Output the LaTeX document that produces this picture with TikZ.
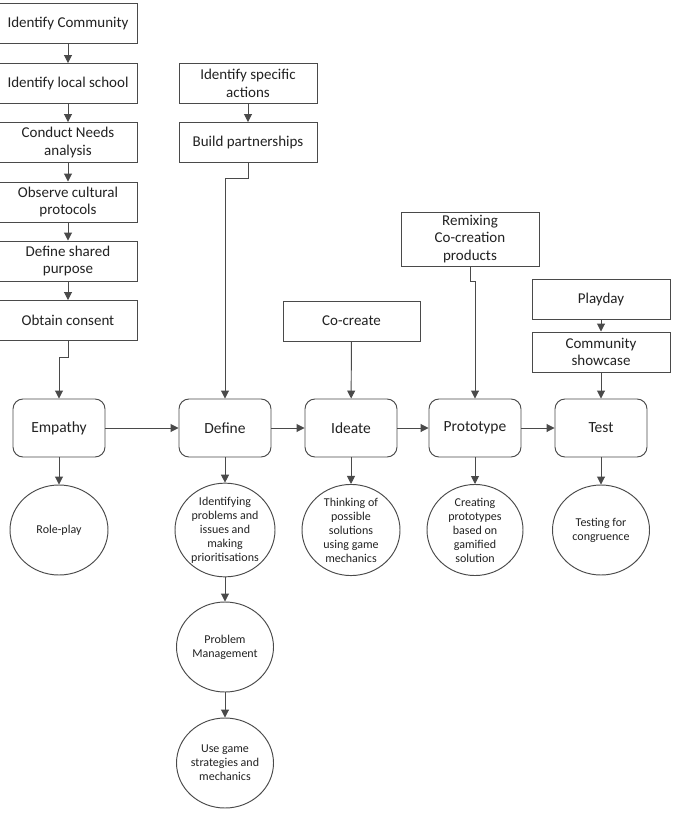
\documentclass[tikz,border=0pt]{standalone}
\usepackage{fontspec}
\setmainfont{Carlito}
\usetikzlibrary{shapes.geometric,arrows.meta}
\definecolor{ln}{HTML}{4A4A4A}
\definecolor{tx}{HTML}{222222}
\begin{document}
\begin{tikzpicture}[x=1pt,y=-1pt,
  box/.style={draw=ln,line width=0.95pt,rectangle,minimum width=138pt,minimum height=40pt,align=center,text=tx,font=\fontsize{15}{17.5}\selectfont,inner sep=1pt},
  stage/.style={draw=ln,line width=0.95pt,rectangle,rounded corners=10pt,minimum width=92pt,minimum height=58pt,text=tx,font=\fontsize{15.5}{18}\selectfont},
  circ/.style={draw=ln,line width=0.95pt,ellipse,minimum width=98pt,minimum height=90pt,inner sep=0pt,align=center,text=tx,font=\fontsize{12}{14}\selectfont},
  arr/.style={draw=ln,line width=0.95pt,-{Triangle[length=8pt,width=8pt]}}]
\useasboundingbox (0,0) rectangle (673,840);
\fill[white] (0,0) rectangle (673,840);
% left column
\node[box] (ic) at (68,23.5) {Identify Community};
\node[box] (ils) at (68,83.5) {Identify local school};
\node[box] (cna) at (68,142.5) {Conduct Needs\\analysis};
\node[box] (ocp) at (68,202) {Observe cultural\\protocols};
\node[box] (dsp) at (68,261) {Define shared\\purpose};
\node[box] (oc) at (68,320.5) {Obtain consent};
% middle column
\node[box] (isa) at (248,83.5) {Identify specific\\actions};
\node[box] (bp) at (248,142.5) {Build partnerships};
\node[box,minimum width=137pt] (cc) at (351.5,321) {Co-create};
\node[box,minimum height=54pt] (rx) at (470,239) {Remixing\\Co-creation\\products};
\node[box] (pd) at (601,299) {Playday};
\node[box] (cs) at (601,352) {Community\\showcase};
% stages
\node[stage] (emp) at (59,428) {Empathy};
\node[stage] (def) at (225,428) {Define};
\node[stage] (ide) at (351,428) {Ideate};
\node[stage] (pro) at (475,428) {Prototype};
\node[stage] (tst) at (601,428) {Test};
% circles
\node[circ] (rp) at (59,530) {Role-play};
\node[circ,minimum width=100pt,minimum height=92pt] (ip) at (225,530) {Identifying\\problems and\\issues and\\making\\prioritisations};
\node[circ,minimum width=97pt] (pm) at (225,647) {Problem\\Management};
\node[circ,minimum width=97pt] (ug) at (225,763) {Use game\\strategies and\\mechanics};
\node[circ] (th) at (351,530) {Thinking of\\possible\\solutions\\using game\\mechanics};
\node[circ,minimum width=96pt] (cr) at (475,530) {Creating\\prototypes\\based on\\gamified\\solution};
\node[circ,minimum width=97pt] (tf) at (601,530) {Testing for\\congruence};
% connectors
\draw[arr] (ic) -- (ils);
\draw[arr] (ils) -- (cna);
\draw[arr] (cna) -- (ocp);
\draw[arr] (ocp) -- (dsp);
\draw[arr] (dsp) -- (oc);
\draw[arr] (oc.south) -- ++(0,16) -| (emp.north);
\draw[arr] (isa) -- (bp);
\draw[arr] (bp.south) -- ++(0,15) -| (def.north);
\draw[arr] (cc) -- (ide);
\draw[arr] (rx.south) -- ++(0,15) -| (pro.north);
\draw[arr] (pd) -- (cs);
\draw[arr] (cs) -- (tst);
\draw[arr] (emp) -- (def);
\draw[arr] (def) -- (ide);
\draw[arr] (ide) -- (pro);
\draw[arr] (pro) -- (tst);
\draw[arr] (emp) -- (rp);
\draw[arr] (def) -- (ip);
\draw[arr] (ip) -- (pm);
\draw[arr] (pm) -- (ug);
\draw[arr] (ide) -- (th);
\draw[arr] (pro) -- (cr);
\draw[arr] (tst) -- (tf);
\end{tikzpicture}
\end{document}
